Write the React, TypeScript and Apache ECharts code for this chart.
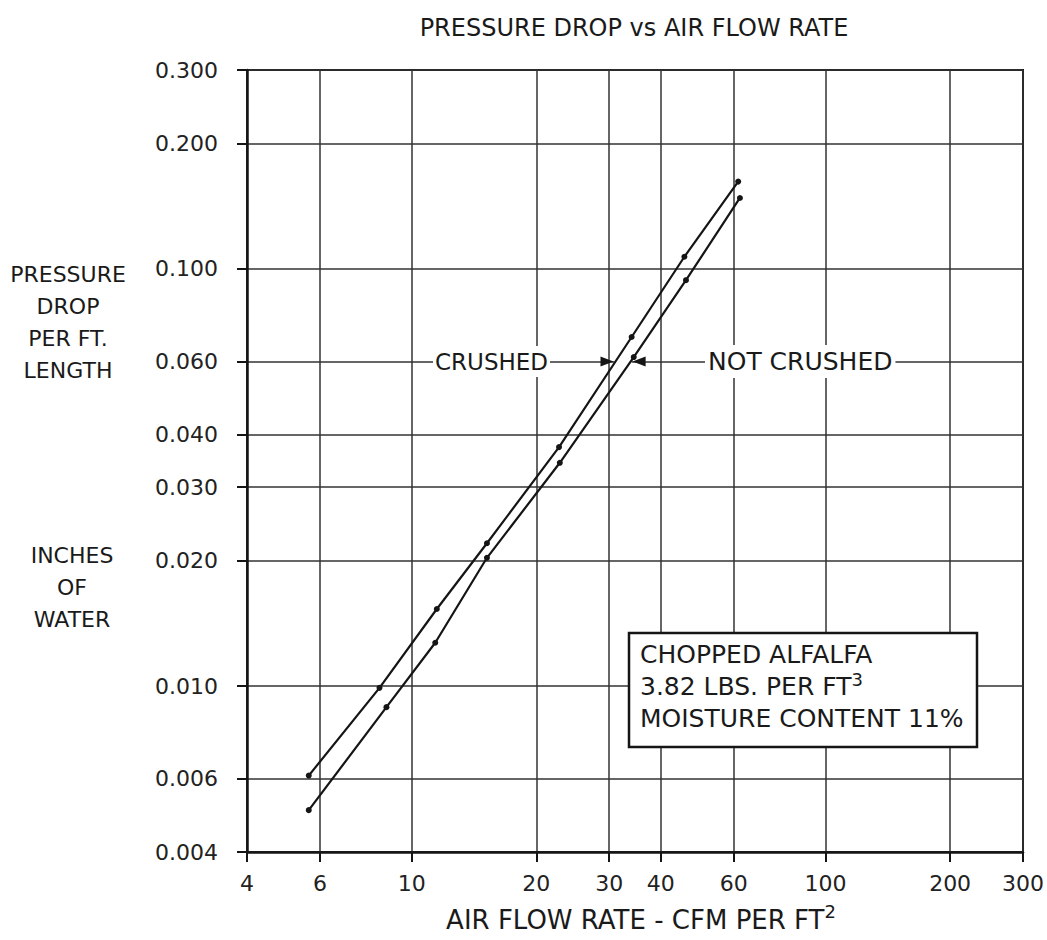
import React, { useEffect, useRef } from "react";
import * as echarts from "echarts";

const xTicks = [4, 6, 10, 20, 30, 40, 60, 100, 200, 300];
const yTicks = [0.004, 0.006, 0.01, 0.02, 0.03, 0.04, 0.06, 0.1, 0.2, 0.3];

const crushedFlow = [5.64, 8.36, 11.5, 15.2, 22.7, 34.0, 45.6, 61.5];
const crushedDrop = [0.0061, 0.0099, 0.0153, 0.022, 0.0374, 0.0687, 0.107, 0.162];

const notCrushedFlow = [5.64, 8.69, 11.4, 15.2, 22.8, 34.4, 46.0, 62.1];
const notCrushedDrop = [0.00504, 0.0089, 0.0127, 0.0203, 0.0343, 0.0615, 0.094, 0.148];

const FONT = "DejaVu Sans";
const INK = "#151515";

function crossX(chart: any, xs: number[], ys: number[], yPix: number): number {
  const pts = xs.map((x, i) => chart.convertToPixel({ gridIndex: 0 }, [x, ys[i]]));
  for (let i = 0; i < pts.length - 1; i++) {
    const a = pts[i];
    const b = pts[i + 1];
    if ((a[1] - yPix) * (b[1] - yPix) <= 0) {
      const t = (yPix - a[1]) / (b[1] - a[1]);
      return a[0] + t * (b[0] - a[0]);
    }
  }
  return pts[0][0];
}

export default function App() {
  const ref = useRef<HTMLDivElement>(null);
  useEffect(() => {
    const chart = echarts.init(ref.current!, null, { renderer: "svg" });
    const option: any = {
      animation: false,
      backgroundColor: "#ffffff",
      grid: {
        left: 247,
        right: 21,
        top: 70,
        bottom: 88,
        show: true,
        borderColor: INK,
        borderWidth: 2,
        backgroundColor: "transparent",
      },
      xAxis: {
        type: "log",
        logBase: 10,
        min: 4,
        max: 300,
        axisLine: { show: true, lineStyle: { color: INK, width: 2.5 } },
        axisTick: { show: true, inside: false, length: 10, customValues: xTicks, lineStyle: { color: INK, width: 2 } },
        axisLabel: {
          customValues: xTicks,
          margin: 20,
          color: "#222",
          fontFamily: FONT,
          fontSize: 22,
          formatter: (v: number) => String(Math.round(v)),
        },
        splitLine: { show: true, lineStyle: { color: "#333", width: 1.5 } },
        minorTick: { show: false },
        minorSplitLine: { show: false },
      },
      yAxis: {
        type: "log",
        logBase: 10,
        min: 0.004,
        max: 0.3,
        axisLine: { show: true, lineStyle: { color: INK, width: 2.5 } },
        axisTick: { show: true, inside: false, length: 10, customValues: yTicks, lineStyle: { color: INK, width: 2 } },
        axisLabel: {
          customValues: yTicks,
          margin: 29,
          color: "#222",
          fontFamily: FONT,
          fontSize: 22,
          formatter: (v: number) => v.toFixed(3),
        },
        splitLine: { show: true, lineStyle: { color: "#333", width: 1.5 } },
        minorTick: { show: false },
        minorSplitLine: { show: false },
      },
      series: [
        {
          name: "CRUSHED",
          type: "line",
          data: crushedFlow.map((x, i) => [x, crushedDrop[i]]),
          symbol: "circle",
          symbolSize: 6,
          itemStyle: { color: INK },
          lineStyle: { color: INK, width: 2.2 },
          z: 5,
        },
        {
          name: "NOT CRUSHED",
          type: "line",
          data: notCrushedFlow.map((x, i) => [x, notCrushedDrop[i]]),
          symbol: "circle",
          symbolSize: 6,
          itemStyle: { color: INK },
          lineStyle: { color: INK, width: 2.2 },
          z: 5,
        },
      ],
    };
    chart.setOption(option);

    const y06 = chart.convertToPixel({ gridIndex: 0 }, [10, 0.06])[1];
    const tipL = crossX(chart, crushedFlow, crushedDrop, y06) - 2;
    const tipR = crossX(chart, notCrushedFlow, notCrushedDrop, y06) + 2;

    const textBase = { fontFamily: FONT, fill: "#1a1a1a" };

    chart.setOption({
      graphic: [
        {
          type: "text",
          x: 634,
          y: 28,
          style: { ...textBase, text: "PRESSURE DROP vs AIR FLOW RATE", fontSize: 24, textAlign: "center", textVerticalAlign: "middle" },
        },
        {
          type: "text",
          x: 641,
          y: 920,
          style: {
            ...textBase,
            text: "{a|AIR FLOW RATE - CFM PER FT}{s|2}",
            textAlign: "center",
            textVerticalAlign: "middle",
            rich: {
              a: { fontFamily: FONT, fontSize: 26, lineHeight: 36, color: "#1a1a1a" },
              s: { fontFamily: FONT, fontSize: 18, lineHeight: 26, verticalAlign: "top", color: "#1a1a1a" },
            },
          },
        },
        {
          type: "text",
          x: 68,
          y: 322,
          style: {
            ...textBase,
            text: "PRESSURE\nDROP\nPER FT.\nLENGTH",
            fontSize: 22,
            lineHeight: 32,
            textAlign: "center",
            textVerticalAlign: "middle",
          },
        },
        {
          type: "text",
          x: 72,
          y: 587,
          style: {
            ...textBase,
            text: "INCHES\nOF\nWATER",
            fontSize: 22,
            lineHeight: 32,
            textAlign: "center",
            textVerticalAlign: "middle",
          },
        },
        {
          type: "rect",
          z: 1,
          shape: { x: tipL + 1, y: y06 - 2, width: tipR - tipL - 2, height: 4 },
          style: { fill: "#ffffff" },
        },
        {
          type: "text",
          z: 1,
          x: 433,
          y: y06,
          style: {
            ...textBase,
            text: "CRUSHED",
            fontSize: 23,
            textVerticalAlign: "middle",
            backgroundColor: "#ffffff",
            padding: [4, 2, 4, 2],
          },
        },
        {
          type: "polygon",
          z: 1,
          shape: { points: [[tipL, y06], [tipL - 13, y06 - 5], [tipL - 13, y06 + 5]] },
          style: { fill: INK },
        },
        {
          type: "polygon",
          z: 1,
          shape: { points: [[tipR, y06], [tipR + 13, y06 - 5], [tipR + 13, y06 + 5]] },
          style: { fill: INK },
        },
        {
          type: "text",
          z: 1,
          x: 705,
          y: y06,
          style: {
            ...textBase,
            text: "NOT CRUSHED",
            fontSize: 25,
            textVerticalAlign: "middle",
            backgroundColor: "#ffffff",
            padding: [4, 3, 4, 3],
          },
        },
        {
          type: "rect",
          z: 6,
          shape: { x: 629, y: 633, width: 348, height: 114 },
          style: { fill: "#ffffff", stroke: INK, lineWidth: 2.5 },
        },
        {
          type: "text",
          z: 7,
          x: 640,
          y: 654,
          style: { ...textBase, text: "CHOPPED ALFALFA", fontSize: 25, textVerticalAlign: "middle" },
        },
        {
          type: "text",
          z: 7,
          x: 640,
          y: 686,
          style: {
            ...textBase,
            text: "{a|3.82 LBS. PER FT}{s|3}",
            textVerticalAlign: "middle",
            rich: {
              a: { fontFamily: FONT, fontSize: 25, lineHeight: 32, color: "#1a1a1a" },
              s: { fontFamily: FONT, fontSize: 18, lineHeight: 24, verticalAlign: "top", color: "#1a1a1a" },
            },
          },
        },
        {
          type: "text",
          z: 7,
          x: 640,
          y: 718,
          style: { ...textBase, text: "MOISTURE CONTENT 11%", fontSize: 25, textVerticalAlign: "middle" },
        },
      ],
    });

    return () => chart.dispose();
  }, []);
  return (
    <div
      ref={ref}
      style={{ position: "fixed", left: 0, top: 0, width: 1047, height: 940, background: "#fff" }}
    />
  );
}
